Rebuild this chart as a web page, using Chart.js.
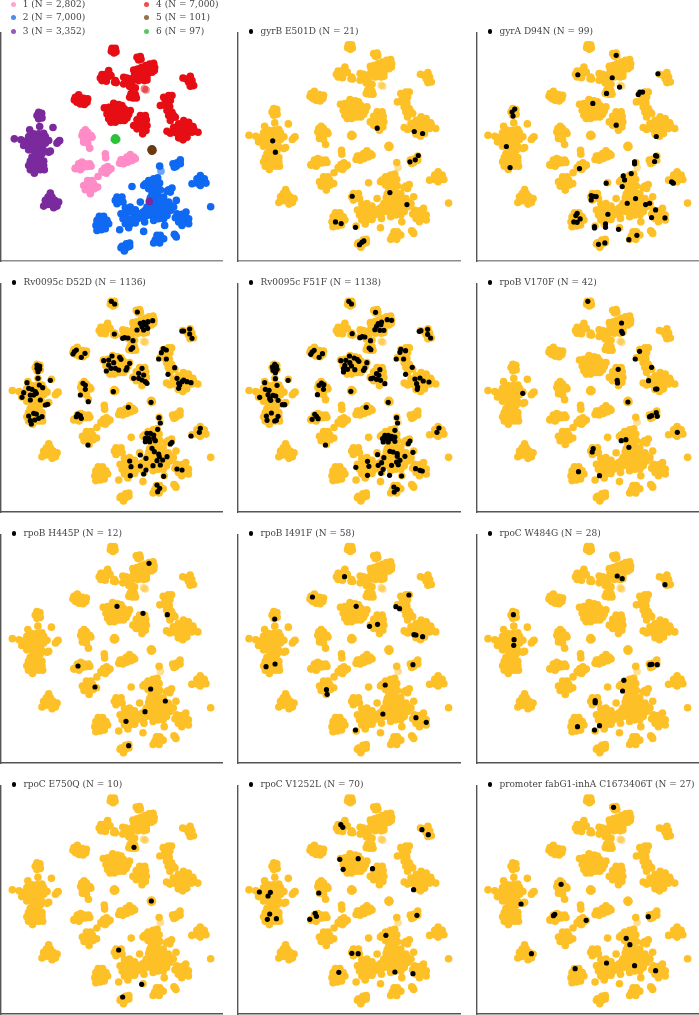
<html>
<head>
<meta charset="utf-8">
<style>
html, body { margin: 0; padding: 0; background: #fff; overflow: hidden; width: 699px; height: 1015px; }
canvas { position: absolute; }
.lg { position: absolute; font: 9px "DejaVu Serif", serif; color: #444; white-space: pre; line-height: 12px; }
.dot { position: absolute; border-radius: 50%; }
</style>
</head>
<body>
<script src="https://cdnjs.cloudflare.com/ajax/libs/Chart.js/4.4.1/chart.umd.js"></script>
<script>
// point cloud
const cluster1 = [[255,388],[248,395],[262,395],[245,405],[258,405],[272,405],[250,415],[262,415],[275,410],[250,425],[262,428],[268,443],
  [225,503],[235,490],[245,485],[255,490],[268,490],[235,500],[248,500],[260,498],[272,497],[240,508],[225,505],
  [315,460],[316,472],[310,515],[322,498],[332,505],[325,510],[313,503],[318,518],[305,512],
  [358,488],[368,478],[380,470],[390,462],[400,470],[370,490],[382,485],[395,480],[405,475],[375,480],[362,478],
  [293,528],[262,540],[275,540],[250,555],[265,552],[280,550],[292,560],[255,568],[268,565],[282,565],[270,580]];
const cluster2 = [[478,497],[540,478],[530,487],[518,490],[528,497],[540,490],[522,500],
  [600,525],[590,535],[605,540],[575,550],[590,548],[600,555],[617,548],[612,535],[631,619],[395,558],
  [445,540],[460,535],[472,532],[435,550],[450,550],[465,550],[478,548],[445,565],[460,565],[472,563],[480,568],[455,580],[470,580],[430,555],
  [505,568],[515,563],[500,572],[510,575],[490,590],[465,590],[478,590],[450,592],
  [350,590],[365,590],[345,600],[358,603],[368,605],[350,610],[420,605],[528,600],
  [460,600],[475,600],[490,605],[505,605],[450,615],[465,615],[480,615],[495,615],[510,615],[520,620],[440,620],
  [435,630],[450,630],[465,630],[480,630],[495,630],[510,630],[425,645],[440,645],[455,645],[470,645],[485,645],[500,645],[430,655],[460,660],[475,655],[490,655],[428,635],
  [375,622],[390,620],[405,628],[362,640],[375,638],[390,635],[405,640],[418,640],[368,655],[382,655],[397,655],[412,655],[375,670],[390,670],[405,668],[385,682],[358,688],[433,665],[430,693],[493,675],
  [557,635],[530,640],[545,642],[525,652],[540,655],[555,650],[565,655],[535,665],[550,665],[565,670],[545,675],
  [297,648],[310,648],[290,660],[305,660],[320,660],[287,675],[300,675],[315,672],[325,670],[290,690],[303,688],[315,685],
  [470,705],[480,705],[465,718],[478,718],[490,715],[478,728],[460,728],[525,705],[522,702],[528,710],
  [388,728],[378,730],[365,738],[378,742],[388,738],[362,742],[372,752]];
const cluster3 = [[115,335],[124,338],[110,345],[120,345],[125,352],[115,355],[118,378],[88,388],[158,381],[42,415],[62,418],
  [100,400],[115,400],[130,398],[135,408],[85,408],[100,410],[115,412],[130,415],[145,420],[75,422],[90,422],[105,425],[120,425],[135,428],
  [70,435],[82,435],[95,438],[110,438],[125,440],[85,448],[100,450],[115,452],[130,450],[145,455],[150,452],[175,422],[170,428],[178,420],
  [108,465],[95,470],[120,470],[125,460],[105,480],[90,482],[115,482],[130,482],[85,495],[100,495],[115,497],[130,495],[90,508],[105,510],[120,508],[132,508],[102,518],
  [150,578],[143,590],[155,590],[135,600],[148,603],[163,600],[175,605],[130,617],[143,612],[157,612],[170,617],[160,622],[447,603]];
const cluster4 = [[335,143],[345,143],[340,150],[333,152],[347,153],[341,157],[410,170],[420,168],[415,178],[422,176],
  [400,208],[412,205],[424,200],[436,195],[448,190],[460,188],[463,200],[455,205],[445,205],[435,207],[425,210],[412,215],[403,218],[420,220],[432,218],[445,215],[455,215],[462,210],[428,230],[440,228],[418,230],[432,240],[440,238],[415,240],
  [325,210],[315,222],[305,222],[300,232],[315,235],[325,228],[332,225],[305,240],[318,242],[310,232],[345,240],[343,245],[348,246],
  [370,230],[380,232],[390,238],[375,245],[385,250],[370,250],[395,245],[398,232],[405,228],[388,258],[405,262],[398,268],[392,280],[405,282],[398,292],[388,290],[408,292],[400,272],
  [548,232],[570,227],[575,240],[565,245],[570,257],[580,255],[558,235],
  [235,283],[225,290],[238,290],[250,293],[262,295],[222,298],[235,302],[248,303],[260,305],[230,305],[252,312],[240,310],
  [312,322],[325,320],[340,308],[355,312],[365,315],[372,325],[330,330],[345,325],[358,328],[320,340],[335,342],[350,340],[365,338],[375,340],[325,355],[340,355],[355,352],[332,365],[345,365],[360,360],[390,330],[385,342],[380,352],[372,360],
  [420,345],[435,345],[410,358],[425,355],[438,358],[400,375],[415,372],[428,370],[440,375],[410,385],[425,385],[437,390],[427,400],
  [490,290],[505,285],[515,285],[495,300],[510,300],[480,315],[495,315],[508,318],[500,330],[515,335],[505,345],[520,345],[510,360],[525,350],
  [550,360],[565,365],[535,370],[550,372],[565,375],[578,378],[520,380],[535,385],[550,385],[565,388],[580,385],[500,392],[515,395],[530,398],[545,400],[560,398],[575,395],[535,412],[548,418],[560,410],[510,398],[593,395]];
const cluster5 = [[455,445],[452,448],[458,449],[455,452]];
const cluster6 = [[345,412],[342,416],[349,416],[345,419]];
const faint2 = [[482,512]];
const faint4 = [[432,265],[437,268]];

const clusterNames = ['1', '2', '3', '4', '5', '6'];
const clusterCounts = [2802, 7000, 3352, 7000, 101, 97];

const mutationNames = ['gyrB E501D', 'gyrA D94N', 'Rv0095c D52D', 'Rv0095c F51F', 'rpoB V170F', 'rpoB H445P',
  'rpoB I491F', 'rpoC W484G', 'rpoC E750Q', 'rpoC V1252L', 'promoter fabG1-inhA C1673406T'];
const mutationCounts = [21, 99, 1136, 1138, 42, 12, 58, 28, 10, 70, 27];

// carriers of each mutation, in each panel's own coordinates
const gyrB = [[114,361],[122,395],[427,323],[538,333],[563,339],[550,405],[541,418],[525,424],[465,516],[352,527],[516,552],[302,604],[319,609],[362,620],[387,661],[381,665],[374,672]];
const gyrA = [[437,105],[322,163],[425,172],[447,200],[408,219],[503,222],[508,215],[516,215],[562,160],[367,249],[133,266],[125,275],[128,287],[437,314],[557,348],[108,378],[119,441],[555,405],[552,423],[558,407],[492,424],[492,430],[327,444],[482,459],[458,466],[462,478],[407,488],[455,498],[362,525],[377,528],[368,527],[362,538],[470,548],[495,534],[525,552],[537,548],[603,484],[608,488],[555,568],[412,581],[543,591],[583,592],[320,578],[316,585],[329,595],[310,604],[320,605],[372,618],[372,622],[405,610],[405,620],[444,626],[499,644],[475,657],[403,667],[384,671]];
const d52d = [[333,94],[343,102],[411,126],[457,152],[443,155],[430,157],[420,160],[437,165],[425,170],[410,180],[430,180],[442,175],[550,183],[545,183],[568,177],[568,192],[575,205],[342,192],[373,203],[367,205],[383,204],[398,212],[397,233],[392,238],[489,236],[498,240],[483,248],[475,267],[498,267],[222,245],[218,252],[228,240],[254,250],[243,262],[335,258],[358,262],[362,268],[310,272],[325,270],[340,278],[388,280],[325,285],[345,295],[355,300],[318,303],[332,295],[380,293],[377,300],[523,293],[503,313],[425,295],[415,310],[430,315],[400,325],[415,325],[425,330],[435,335],[440,340],[530,325],[550,330],[560,335],[572,338],[535,340],[545,335],[535,355],[538,345],[110,285],[118,288],[110,295],[118,297],[113,305],[113,325],[150,331],[80,338],[117,345],[127,353],[85,355],[95,358],[105,365],[70,368],[90,375],[100,375],[108,370],[65,382],[90,390],[120,390],[135,405],[142,403],[100,430],[108,432],[125,440],[115,445],[85,438],[90,452],[103,450],[93,462],[248,340],[255,345],[255,358],[240,375],[264,395],[339,365],[452,397],[384,412],[232,432],[240,437],[228,440],[243,445],[476,443],[480,459],[472,478],[440,490],[450,490],[460,495],[435,505],[445,505],[460,505],[435,515],[448,515],[465,512],[515,517],[510,522],[263,525],[600,475],[597,487],[572,498],[455,535],[462,545],[420,555],[475,552],[477,560],[500,560],[470,572],[487,570],[388,573],[437,565],[392,590],[420,588],[458,587],[480,585],[530,597],[545,600],[390,617],[430,612],[437,600],[490,619],[470,645],[478,655],[472,665]];
const f51f = [[342,88],[350,96],[422,121],[457,143],[470,145],[440,150],[430,155],[438,158],[425,163],[420,173],[435,175],[447,175],[352,185],[558,176],[553,178],[578,172],[578,187],[587,198],[382,194],[375,197],[390,195],[407,206],[403,228],[408,233],[498,232],[495,241],[512,236],[484,261],[506,261],[238,235],[232,240],[228,247],[263,245],[253,256],[344,252],[318,266],[333,265],[358,258],[367,262],[372,268],[345,272],[330,280],[350,282],[396,272],[326,290],[338,292],[360,293],[390,288],[386,295],[326,300],[532,286],[512,307],[435,293],[425,305],[432,310],[415,318],[408,320],[425,322],[437,325],[450,335],[540,321],[555,318],[565,327],[582,330],[545,335],[548,345],[547,352],[120,277],[125,282],[113,285],[127,292],[115,295],[122,302],[122,320],[160,325],[90,332],[127,340],[92,352],[103,355],[115,370],[100,368],[123,372],[75,376],[105,380],[130,385],[143,398],[150,398],[108,385],[110,423],[130,433],[125,445],[95,432],[97,445],[120,447],[260,333],[253,340],[267,338],[266,352],[248,368],[348,358],[460,391],[394,406],[240,427],[245,433],[232,442],[250,440],[485,437],[488,453],[480,475],[450,490],[460,490],[470,493],[443,500],[455,500],[468,500],[445,510],[460,510],[480,495],[480,508],[525,507],[520,515],[272,519],[612,468],[606,481],[534,541],[465,538],[475,540],[428,548],[487,545],[487,553],[510,553],[447,557],[495,565],[470,580],[440,572],[398,568],[402,583],[430,580],[485,570],[490,578],[363,586],[445,592],[438,604],[464,610],[500,612],[398,610],[542,590],[555,595],[562,597],[477,645],[487,652],[478,660]];
const v170f = [[342,88],[443,153],[443,178],[446,184],[497,238],[484,261],[533,286],[433,292],[524,326],[430,325],[431,333],[545,351],[549,351],[147,364],[462,390],[547,422],[550,433],[533,431],[527,434],[610,481],[456,503],[442,506],[465,526],[358,530],[355,540],[314,599],[377,611]];
const h445p = [[446,121],[350,250],[428,271],[501,275],[233,429],[284,492],[451,498],[495,534],[434,566],[377,595],[385,668]];
const i491f = [[329,161],[233,222],[522,216],[483,251],[494,257],[364,250],[120,288],[428,304],[404,310],[537,335],[543,336],[563,341],[121,423],[94,431],[534,425],[451,486],[275,500],[277,514],[444,573],[543,584],[574,598],[362,621]];
const w484g = [[430,159],[445,167],[573,185],[119,275],[121,350],[120,367],[528,425],[534,424],[550,425],[450,472],[446,504],[364,533],[364,539],[311,611],[377,608],[362,621]];
const e750q = [[401,246],[453,407],[355,554],[424,657],[367,695]];
const v1252l = [[318,178],[324,186],[561,193],[580,208],[315,282],[370,280],[325,312],[413,310],[107,381],[74,380],[100,392],[252,383],[536,373],[105,446],[98,462],[125,460],[241,444],[245,453],[225,462],[546,450],[453,510],[351,564],[370,565],[312,621],[480,620],[534,625]];
const fabg1 = [[419,126],[262,357],[142,416],[523,454],[337,465],[243,447],[239,451],[457,519],[468,538],[173,565],[398,593],[482,601],[304,610],[545,616]];
const mutationMarks = [gyrB, gyrA, d52d, f51f, v170f, h445p, i491f, w484g, e750q, v1252l, fabg1];

const clusterColors = ['#ff8cc6', '#0f69f2', '#7a2a9c', '#e60e14', '#6a3a12', '#2cc23a'];
const legendColors = ['#fda5d1', '#4a8cf2', '#9a58b8', '#ee4c50', '#95704f', '#56c963'];
const orange = '#fdc027';

const colLeft = [1, 238, 477], colWidth = [221, 222, 222];
const rowTop = [33, 284, 535, 786], rowHeight = [228, 228, 228, 228];
// bottom spine looks lighter in the top row
const bottomColor = ['#8c8c8c', '#555', '#555', '#555'];
// axis limits of the shared cloud per column and row
const cloudX = [[8.3, 664.7], [9.5, 664.7], [9.5, 664.7]];
const cloudY = [[107.9, 793], [90, 785.8], [108.6, 782.5], [107.5, 782.7]];
// axis limits of the marks per panel, in the coordinates they were read in
const markX = [[2, 665], [10, 675], [10, 675]];
const markY = [[36, 720], [36, 720], [36, 720], [62, 746]];
const PAD = 6;

function addLegendEntry(x, y, color, text, size) {
  const d = document.createElement('div');
  d.className = 'dot';
  d.style.cssText = `left:${x - size / 2}px;top:${y - size / 2}px;width:${size}px;height:${size}px;background:${color}`;
  document.body.appendChild(d);
  const t = document.createElement('div');
  t.className = 'lg';
  t.style.left = (x + 9.4) + 'px';
  t.style.top = (y - 6.5) + 'px';
  t.textContent = text;
  document.body.appendChild(t);
}

function drawPanel(col, row, datasets, xr, yr, mxr, myr) {
  const c = document.createElement('canvas');
  const w = colWidth[col], h = rowHeight[row];
  c.width = w + PAD * 2;
  c.height = h + PAD * 2;
  c.style.left = (colLeft[col] - PAD) + 'px';
  c.style.top = (rowTop[row] - PAD) + 'px';
  document.body.appendChild(c);
  const axis = (r, color, width) => ({
    type: 'linear', min: r[0], max: r[1],
    ticks: { display: false },
    grid: { display: false, drawTicks: false },
    border: { display: true, color: color, width: width }
  });
  const hidden = (r, extra) => Object.assign({ type: 'linear', min: r[0], max: r[1], display: false }, extra);
  new Chart(c.getContext('2d'), {
    type: 'scatter',
    data: { datasets: datasets },
    options: {
      responsive: false,
      animation: false,
      layout: { padding: PAD },
      plugins: { legend: { display: false }, tooltip: { enabled: false } },
      scales: {
        x: Object.assign(axis(xr, bottomColor[row], 1.4), { position: 'bottom' }),
        y: Object.assign(axis(yr, '#555', 1.4), { position: 'left', reverse: true }),
        xm: hidden(mxr, { position: 'bottom' }),
        ym: hidden(myr, { position: 'left', reverse: true })
      }
    }
  });
}

const toXY = pts => pts.map(p => ({ x: p[0], y: p[1] }));
const cloud = (pts, color) => ({ data: toXY(pts), backgroundColor: color, pointRadius: 3.8, borderWidth: 0, xAxisID: 'x', yAxisID: 'y' });

// first panel: clusters in colour. the first dataset is painted last
const clusters = [cluster1, cluster2, cluster3, cluster4, cluster5, cluster6];
const colored = clusters.map((pts, i) => cloud(pts, clusterColors[i]));
colored.unshift(cloud(faint2, 'rgba(15,105,242,0.6)'), cloud(faint4, 'rgba(230,14,20,0.5)'));
drawPanel(0, 0, colored.reverse(), [2, 665], [97, 782], [2, 665], [97, 782]);
const legendCol = [13.3, 146.7], legendRow = [4.6, 17.8, 31];
clusterNames.forEach((n, i) => {
  const text = n + ' (N = ' + clusterCounts[i].toLocaleString('en-US') + ')';
  addLegendEntry(legendCol[Math.floor(i / 3)], legendRow[i % 3], legendColors[i], text, 5);
});

// other panels: whole cloud in orange, carriers in black on top
const everything = [].concat(cluster1, cluster2, cluster3, cluster4, cluster5, cluster6);
mutationNames.forEach((name, i) => {
  const pos = i + 1;
  const col = pos % 3, row = Math.floor(pos / 3);
  let mx = markX[col], my = markY[row];
  if (i === 0) { my = [38, 721]; }
  if (i === 1) { mx = [20, 685]; my = [38, 721]; }
  if (i === 2) { my = [42, 726]; }
  drawPanel(col, row, [
    { data: toXY(mutationMarks[i]), backgroundColor: '#000', pointRadius: 2.6, borderWidth: 0, xAxisID: 'xm', yAxisID: 'ym' },
    cloud(faint2.concat(faint4), 'rgba(253,192,39,0.5)'),
    cloud(everything, orange)
  ], cloudX[col], cloudY[row], mx, my);
  addLegendEntry(colLeft[col] + 13, rowTop[row] - 1.5, '#000', name + ' (N = ' + mutationCounts[i] + ')', 4.4);
});
</script>
</body>
</html>
